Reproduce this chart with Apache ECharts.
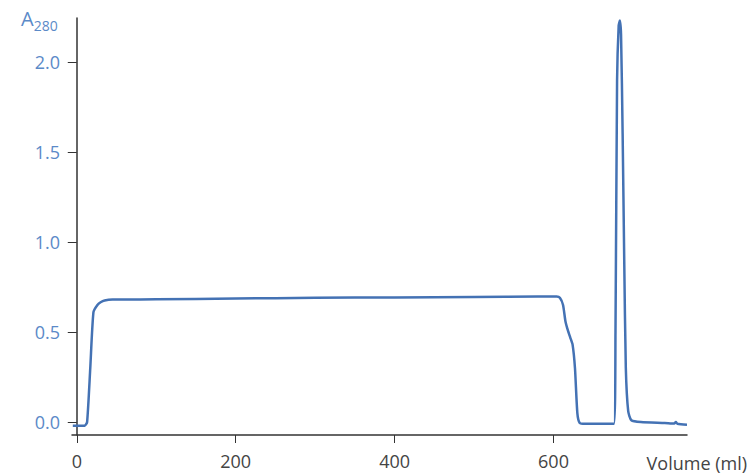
<!DOCTYPE html>
<html>
<head>
<meta charset="utf-8">
<script src="https://cdn.jsdelivr.net/npm/echarts@6/dist/echarts.min.js"></script>
<style>
  html, body { margin: 0; padding: 0; background: #fff; }
  #chart { width: 754px; height: 476px; }
</style>
</head>
<body>
<div id="chart"></div>
<script>
// Chromatogram: A280 vs elution volume
var volume = [-5, 10, 13, 17, 21, 26, 30, 35, 45, 60, 100, 200, 300, 400, 500, 580, 604, 608,
  612, 615, 618, 621, 624, 627, 630, 633, 640, 660, 676, 678, 680, 682, 683.5, 685, 687,
  689, 691, 694, 698, 710, 740, 752, 754, 756, 768];
var a280 = [-0.02, -0.02, 0.0, 0.3, 0.61, 0.65, 0.665, 0.675, 0.68, 0.68, 0.682, 0.686, 0.69, 0.692, 0.695, 0.697, 0.697, 0.69,
  0.65, 0.56, 0.51, 0.47, 0.43, 0.3, 0.05, -0.005, -0.01, -0.01, -0.01, 0.5, 1.9, 2.2, 2.23, 2.15, 1.6,
  0.9, 0.3, 0.06, 0.01, 0.0, -0.005, -0.008, 0.0, -0.01, -0.015];
var xTicks = [0, 200, 400, 600];
var yTicks = [0, 0.5, 1.0, 1.5, 2.0];

var lineColor = '#4472b4';
var yLabelColor = '#5b8ac8';
var axisColor = '#333';

var chart = echarts.init(document.getElementById('chart'), null, { renderer: 'svg' });
chart.setOption({
  animation: false,
  grid: { left: 72, right: 67, top: 18, bottom: 41 },
  xAxis: {
    type: 'value',
    min: -6,
    max: 768,
    name: 'Volume (ml)',
    nameLocation: 'end',
    nameGap: 60,
    nameTextStyle: {
      color: '#444', fontSize: 18, fontFamily: 'Open Sans',
      align: 'right', verticalAlign: 'top', padding: [19, 0, 0, 0]
    },
    axisLine: { onZero: false, lineStyle: { color: axisColor, width: 1.5 } },
    axisTick: { customValues: xTicks, length: 8, lineStyle: { color: axisColor } },
    axisLabel: {
      customValues: xTicks, color: '#444', fontSize: 18, fontFamily: 'Open Sans', margin: 17
    },
    splitLine: { show: false }
  },
  yAxis: {
    type: 'value',
    min: -0.072,
    max: 2.244,
    name: '{a|A}{s|280}',
    nameLocation: 'end',
    nameGap: 0,
    nameTextStyle: {
      align: 'right',
      verticalAlign: 'middle',
      padding: [0, 19, 0, 0],
      rich: {
        a: { color: yLabelColor, fontSize: 20, fontFamily: 'Open Sans' },
        s: { color: yLabelColor, fontSize: 14, fontFamily: 'Open Sans', padding: [14, 0, 0, 0] }
      }
    },
    axisLine: { show: true, lineStyle: { color: axisColor, width: 1.5 } },
    axisTick: { show: true, customValues: yTicks, length: 9, lineStyle: { color: axisColor } },
    axisLabel: {
      customValues: yTicks, color: yLabelColor, fontSize: 18, fontFamily: 'Open Sans', margin: 12,
      formatter: function (v) { return v.toFixed(1); }
    },
    splitLine: { show: false }
  },
  series: [{
    type: 'line',
    data: volume.map(function (v, i) { return [v, a280[i]]; }),
    showSymbol: false,
    smooth: 0.2,
    lineStyle: { color: lineColor, width: 2.5 }
  }]
});
</script>
</body>
</html>
